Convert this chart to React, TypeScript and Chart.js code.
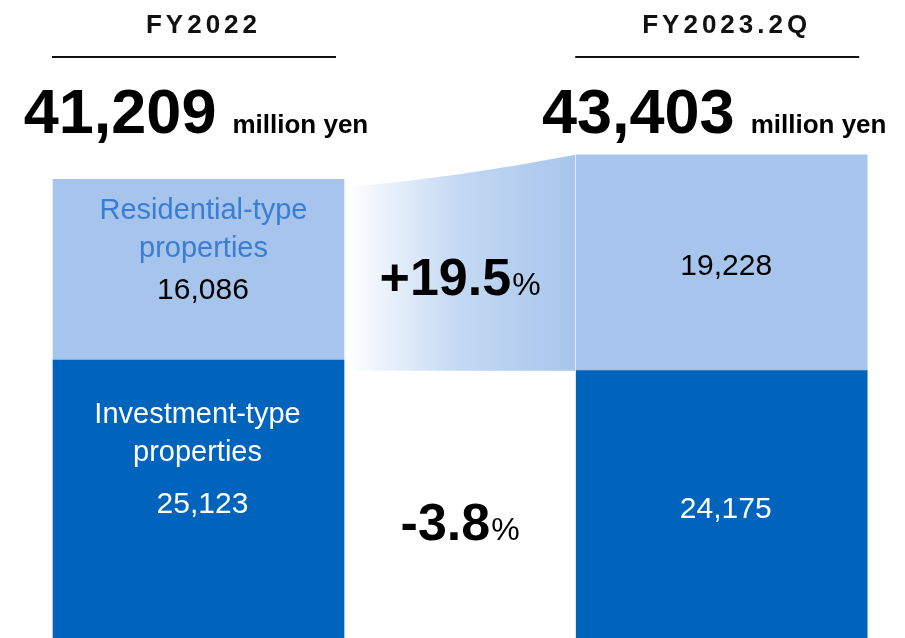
import { useEffect, useRef } from "react";
import { Chart, registerables } from "chart.js";

Chart.register(...registerables);

// ---- data ----
const categories = ["FY2022", "", "FY2023.2Q"];
const residentialValues = [16086, null, 19228];
const investmentValues = [25123, null, 24175];
const totalValues = [41209, null, 43403];
const residentialLabel = ["Residential-type", "properties"];
const investmentLabel = ["Investment-type", "properties"];
const residentialChange = "+19.5";
const investmentChange = "-3.8";
const unitLabel = "million yen";

const LIGHT = "#A6C4EC";
const DARK = "#0064BD";
const FONT = "'Liberation Sans', Arial, Helvetica, sans-serif";

const fmt = (v: number) => v.toLocaleString("en-US");

function text(
  ctx: CanvasRenderingContext2D,
  s: string,
  x: number,
  y: number,
  font: string,
  color: string,
  align: CanvasTextAlign = "center"
) {
  ctx.font = font;
  ctx.fillStyle = color;
  ctx.textAlign = align;
  ctx.textBaseline = "alphabetic";
  ctx.fillText(s, x, y);
}

const overlayPlugin = {
  id: "overlay",
  beforeDatasetsDraw(chart: any) {
    const ctx: CanvasRenderingContext2D = chart.ctx;
    const res = chart.getDatasetMeta(1).data;
    const a = res[0].getProps(["x", "y", "base", "width"], true);
    const b = res[2].getProps(["x", "y", "base", "width"], true);
    const lx = a.x + a.width / 2 + 2;
    const rx = b.x - b.width / 2 - 1;
    const topL = a.y + 8;
    const topR = b.y;
    const bottom = b.base;
    ctx.save();
    const g = ctx.createLinearGradient(lx, 0, rx, 0);
    g.addColorStop(0, "#ffffff");
    g.addColorStop(0.5, "#c3d8f3");
    g.addColorStop(1, "#a8c5ec");
    ctx.fillStyle = g;
    ctx.beginPath();
    ctx.moveTo(lx, topL);
    ctx.quadraticCurveTo((lx + rx) / 2, (topL + topR) / 2 + 6, rx, topR);
    ctx.lineTo(rx, bottom);
    ctx.lineTo(lx, bottom);
    ctx.closePath();
    ctx.fill();
    ctx.restore();
  },
  afterDatasetsDraw(chart: any) {
    const ctx: CanvasRenderingContext2D = chart.ctx;
    const inv = chart.getDatasetMeta(0).data;
    const res = chart.getDatasetMeta(1).data;
    ctx.save();

    [0, 2].forEach((i) => {
      const r = res[i].getProps(["x", "y", "base", "width"], true);
      const v = inv[i].getProps(["x", "y", "base", "width"], true);
      const cx = r.x;

      // header category
      ctx.font = `bold 26px ${FONT}`;
      (ctx as any).letterSpacing = "4px";
      const w = ctx.measureText(categories[i]).width - 4;
      text(ctx, categories[i], cx + 3 - w / 2, 33, `bold 26px ${FONT}`, "#111", "left");
      (ctx as any).letterSpacing = "0px";

      // header rule
      ctx.strokeStyle = "#111";
      ctx.lineWidth = 2;
      ctx.beginPath();
      ctx.moveTo(cx - 4.5 - 142, 57);
      ctx.lineTo(cx - 4.5 + 142, 57);
      ctx.stroke();

      // total
      const numFont = `bold 63px ${FONT}`;
      const unitFont = `bold 26px ${FONT}`;
      const totalStr = fmt(totalValues[i] as number);
      ctx.font = numFont;
      const nw = ctx.measureText(totalStr).width;
      ctx.font = unitFont;
      const uw = ctx.measureText(unitLabel).width;
      const gap = 16;
      const start = cx + (i === 0 ? -2.5 : -7.5) - (nw + gap + uw) / 2;
      text(ctx, totalStr, start, 133, numFont, "#000", "left");
      text(ctx, unitLabel, start + nw + gap, 133, unitFont, "#000", "left");

      const labelFont = `29px ${FONT}`;
      const valueFont = `30px ${FONT}`;
      if (i === 0) {
        text(ctx, residentialLabel[0], cx + 5, r.y + 40, labelFont, "#3A7DD5");
        text(ctx, residentialLabel[1], cx + 5, r.y + 78, labelFont, "#3A7DD5");
        text(ctx, investmentLabel[0], cx - 1, v.y + 63, labelFont, "#ffffff");
        text(ctx, investmentLabel[1], cx - 1, v.y + 101, labelFont, "#ffffff");
      }
      text(ctx, fmt(residentialValues[i] as number), cx + 4.5, r.y + 120, valueFont, "#000");
      text(
        ctx,
        fmt(investmentValues[i] as number),
        cx + 4,
        v.y + (i === 0 ? 153 : 147),
        valueFont,
        "#ffffff"
      );
    });

    // change labels in the middle column
    const midX = chart.scales.x.getPixelForValue(1);
    const r2 = res[2].getProps(["y", "base"], true);
    const v2 = inv[2].getProps(["y", "base"], true);
    const drawChange = (s: string, y: number) => {
      const bf = `bold 52px ${FONT}`;
      const pf = `32px ${FONT}`;
      ctx.font = bf;
      const w1 = ctx.measureText(s).width;
      ctx.font = pf;
      const w2 = ctx.measureText("%").width;
      const st = midX - (w1 + 1 + w2) / 2;
      text(ctx, s, st, y, bf, "#000", "left");
      text(ctx, "%", st + w1 + 1, y, pf, "#000", "left");
    };
    drawChange(residentialChange, (r2.y + r2.base) / 2 + 32);
    drawChange(investmentChange, (v2.y + v2.base) / 2 + 34);

    ctx.restore();
  },
};

export default function App() {
  const ref = useRef<HTMLCanvasElement>(null);
  useEffect(() => {
    if (!ref.current) return;
    const chart = new Chart(ref.current, {
      type: "bar",
      data: {
        labels: categories,
        datasets: [
          {
            label: investmentLabel.join(" "),
            data: investmentValues as any,
            backgroundColor: DARK,
            borderWidth: 0,
            barThickness: 291,
            clip: false as any,
          },
          {
            label: residentialLabel.join(" "),
            data: residentialValues as any,
            backgroundColor: LIGHT,
            borderWidth: 0,
            barThickness: 291,
            clip: false as any,
          },
        ],
      },
      options: {
        responsive: false,
        animation: false,
        devicePixelRatio: 1,
        layout: { padding: { left: 67.7, right: 52.5, top: 0, bottom: 0 } },
        plugins: {
          legend: { display: false },
          tooltip: { enabled: false },
        },
        scales: {
          x: { stacked: true, display: false, offset: true },
          y: { stacked: true, display: false, min: 356, max: 57194 },
        },
      },
      plugins: [overlayPlugin],
    });
    return () => chart.destroy();
  }, []);
  return (
    <div style={{ position: "fixed", left: 0, top: 0, width: 905, height: 638, background: "#fff" }}>
      <canvas ref={ref} width={905} height={638} style={{ display: "block" }} />
    </div>
  );
}
